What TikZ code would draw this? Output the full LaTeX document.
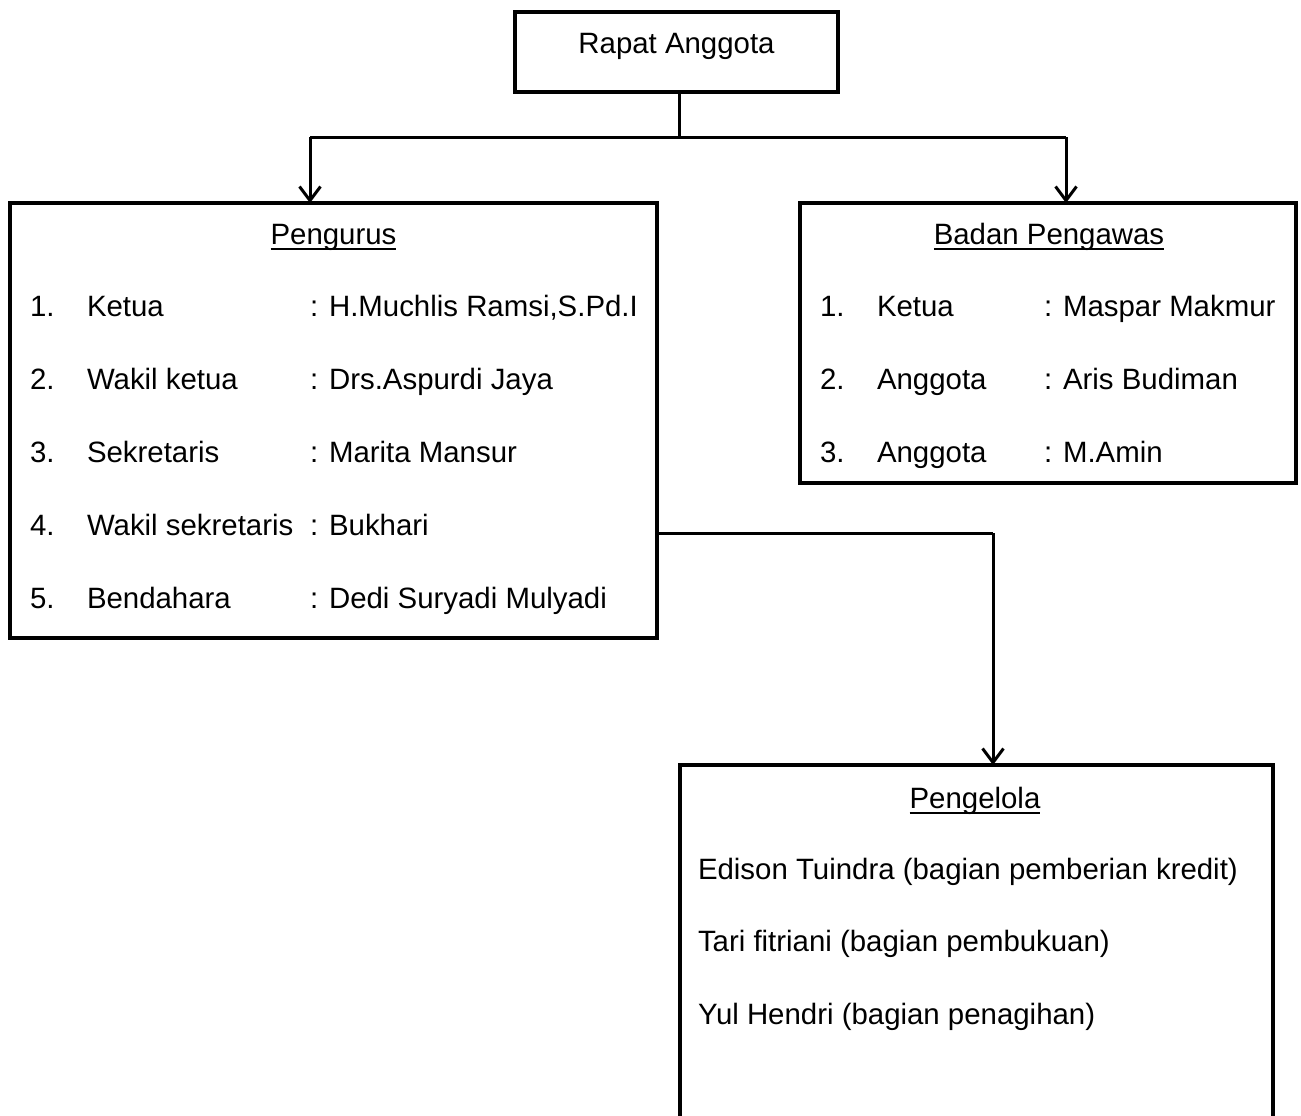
\documentclass[tikz,border=0pt]{standalone}
\usepackage{fontspec}
\setmainfont{Liberation Sans}
\usetikzlibrary{arrows.meta}
\begin{document}
\begin{tikzpicture}[x=0.5pt,y=-0.5pt,
  box/.style={draw, line width=2.2pt, inner sep=0pt, outer sep=0pt},
  link/.style={line width=1.5pt},
  arr/.style={link, -{Straight Barb[length=7pt,width=10.5pt]}},
  txt/.style={inner sep=0pt, outer sep=0pt, anchor=base west, font=\fontsize{14.7}{17}\selectfont},
  ttl/.style={inner sep=0pt, outer sep=0pt, anchor=base, font=\fontsize{14.7}{17}\selectfont},
  uline/.style={line width=0.8pt}]
\useasboundingbox (0,0) rectangle (1301,1115);

% boxes
\node[box, minimum width=161.5pt, minimum height=40pt] (rapat) at (676.5,52) {};
\node[box, minimum width=323.5pt, minimum height=217.5pt] (pengurus) at (333.5,420.5) {};
\node[box, minimum width=248pt, minimum height=140pt] (badan) at (1048,343) {};
\node[box, minimum width=296.5pt, minimum height=187.5pt] (pengelola) at (976.5,952.5) {};

% titles
\node[ttl] (tRapat) at (676.5,53) {Rapat Anggota};
\node[ttl] (tPengurus) at (333.5,244) {Pengurus};
\node[ttl] (tBadan) at (1049,244) {Badan Pengawas};
\node[ttl] (tPengelola) at (975,808) {Pengelola};
\foreach \t in {tPengurus,tBadan,tPengelola}
  \draw[uline] ([yshift=-2.6pt]\t.base west) -- ([yshift=-2.6pt]\t.base east);

% Pengurus members
\node[txt] (pn1) at (30,316) {1.};
\node[txt] (pr1) at (87,316) {Ketua};
\node[txt] (pv1) at (310,316) {: H.Muchlis Ramsi,S.Pd.I};
\node[txt] (pn2) at (30,389) {2.};
\node[txt] (pr2) at (87,389) {Wakil ketua};
\node[txt] (pv2) at (310,389) {: Drs.Aspurdi Jaya};
\node[txt] (pn3) at (30,462) {3.};
\node[txt] (pr3) at (87,462) {Sekretaris};
\node[txt] (pv3) at (310,462) {: Marita Mansur};
\node[txt] (pn4) at (30,535) {4.};
\node[txt] (pr4) at (87,535) {Wakil sekretaris};
\node[txt] (pv4) at (310,535) {: Bukhari};
\node[txt] (pn5) at (30,608) {5.};
\node[txt] (pr5) at (87,608) {Bendahara};
\node[txt] (pv5) at (310,608) {: Dedi Suryadi Mulyadi};

% Badan Pengawas members
\node[txt] (bn1) at (820,316) {1.};
\node[txt] (br1) at (877,316) {Ketua};
\node[txt] (bv1) at (1044,316) {: Maspar Makmur};
\node[txt] (bn2) at (820,389) {2.};
\node[txt] (br2) at (877,389) {Anggota};
\node[txt] (bv2) at (1044,389) {: Aris Budiman};
\node[txt] (bn3) at (820,462) {3.};
\node[txt] (br3) at (877,462) {Anggota};
\node[txt] (bv3) at (1044,462) {: M.Amin};

% Pengelola staff
\node[txt] (g1) at (698,879) {Edison Tuindra (bagian pemberian kredit)};
\node[txt] (g2) at (698,951) {Tari fitriani (bagian pembukuan)};
\node[txt] (g3) at (698,1024) {Yul Hendri (bagian penagihan)};

% connectors
\coordinate (j) at (679,137);
\coordinate (jl) at (310,137);
\coordinate (jr) at (1066,137);
\coordinate (k) at (993,533);
\draw[link] (j |- rapat.south) -- (j);
\draw[link] (jl) -- (jr);
\draw[arr] (jl) -- (jl |- pengurus.north);
\draw[arr] (jr) -- (jr |- badan.north);
\draw[link] (pengurus.east |- k) -- (k);
\draw[arr] (k) -- (k |- pengelola.north);
\end{tikzpicture}
\end{document}
